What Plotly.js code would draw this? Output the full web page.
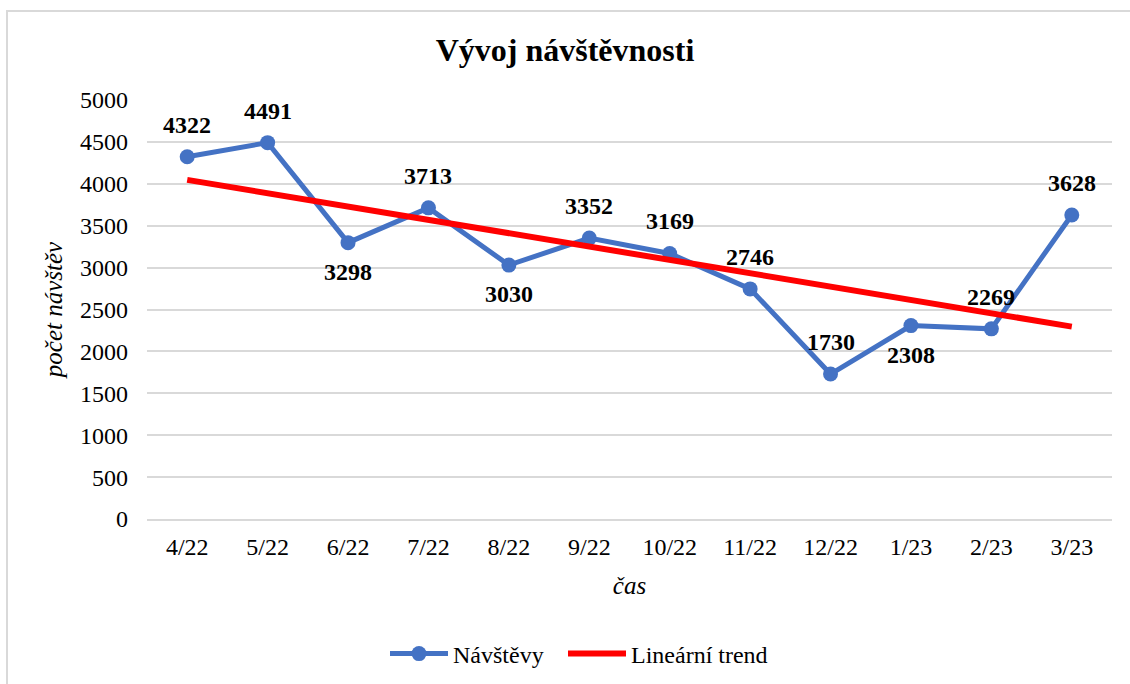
<!DOCTYPE html>
<html>
<head>
<meta charset="utf-8">
<script src="https://cdn.plot.ly/plotly-3.0.1.min.js"></script>
<style>
  html, body { margin: 0; padding: 0; overflow: hidden; background: #fff; }
  #wrap { position: relative; width: 1130px; height: 684px; }
  #frame { position: absolute; left: 6px; top: 10px; width: 1150px; height: 700px; border: 2px solid #d9d9d9; box-sizing: border-box; pointer-events: none; }
  #chart { position: absolute; left: 0; top: 0; width: 1130px; height: 684px; }
</style>
</head>
<body>
<div id="wrap">
  <div id="frame"></div>
  <div id="chart"></div>
</div>
<script>
const categories = ['4/22','5/22','6/22','7/22','8/22','9/22','10/22','11/22','12/22','1/23','2/23','3/23'];
const visits = [4322, 4491, 3298, 3713, 3030, 3352, 3169, 2746, 1730, 2308, 2269, 3628];
const labelAbove = [true, true, false, true, false, true, true, true, true, false, true, true];
const trendX = ['4/22', '3/23'];
const trendY = [4047, 2296];
const yTicks = [0, 500, 1000, 1500, 2000, 2500, 3000, 3500, 4000, 4500, 5000];

const serif = '"Liberation Serif", "Times New Roman", serif';

const traces = [
  {
    x: categories,
    y: visits,
    type: 'scatter',
    mode: 'lines+markers',
    name: 'Návštěvy',
    legend: 'legend',
    line: { color: '#4472C4', width: 5 },
    marker: { color: '#4472C4', size: 15 }
  },
  {
    x: trendX,
    y: trendY,
    type: 'scatter',
    mode: 'lines',
    name: 'Lineární trend',
    legend: 'legend2',
    line: { color: '#FF0000', width: 6 }
  }
];

const annotations = categories.map((c, i) => ({
  x: c,
  y: visits[i],
  xref: 'x',
  yref: 'y',
  text: '<b>' + visits[i] + '</b>',
  showarrow: false,
  xanchor: 'center',
  yanchor: 'middle',
  yshift: labelAbove[i] ? 32 : -29,
  font: { family: serif, size: 24, color: '#000' }
}));

const legendBase = {
  orientation: 'h',
  xanchor: 'left',
  xref: 'container',
  y: 1 - 654/684, yanchor: 'middle', yref: 'container',
  font: { family: serif, size: 24, color: '#000' },
  itemwidth: 58,
  bgcolor: 'rgba(0,0,0,0)'
};

const layout = {
  width: 1130,
  height: 684,
  paper_bgcolor: 'rgba(0,0,0,0)',
  plot_bgcolor: '#fff',
  margin: { l: 147, r: 18, t: 100, b: 165 },
  font: { family: serif, color: '#000' },
  title: {
    text: '<b>Vývoj návštěvnosti</b>',
    font: { family: serif, size: 32, color: '#000' },
    x: 0.5, xanchor: 'center',
    y: 1 - 50/684, yanchor: 'middle', yref: 'container'
  },
  xaxis: {
    type: 'category',
    range: [-0.5, categories.length - 0.5],
    tickfont: { family: serif, size: 24, color: '#000' },
    showgrid: false,
    showline: true,
    linecolor: '#d9d9d9',
    linewidth: 2,
    ticks: '',
    ticklabelstandoff: 5,
    title: { text: '<i>čas</i>', font: { family: serif, size: 25, color: '#000' }, standoff: 18 },
    fixedrange: true
  },
  yaxis: {
    range: [0, 5000],
    tickvals: yTicks,
    ticktext: yTicks.map(String),
    tickfont: { family: serif, size: 24, color: '#000' },
    showgrid: true,
    gridcolor: '#d9d9d9',
    gridwidth: 2,
    zeroline: false,
    showline: false,
    ticks: '',
    ticklabelstandoff: 18,
    title: { text: '<i>počet návštěv</i>', font: { family: serif, size: 25, color: '#000' }, standoff: 10 },
    fixedrange: true
  },
  annotations: annotations,
  legend: Object.assign({}, legendBase, { x: 385 / 1130 }),
  legend2: Object.assign({}, legendBase, { x: 563 / 1130 }),
  showlegend: true
};

Plotly.newPlot('chart', traces, layout, { displayModeBar: false, staticPlot: true });
</script>
</body>
</html>
